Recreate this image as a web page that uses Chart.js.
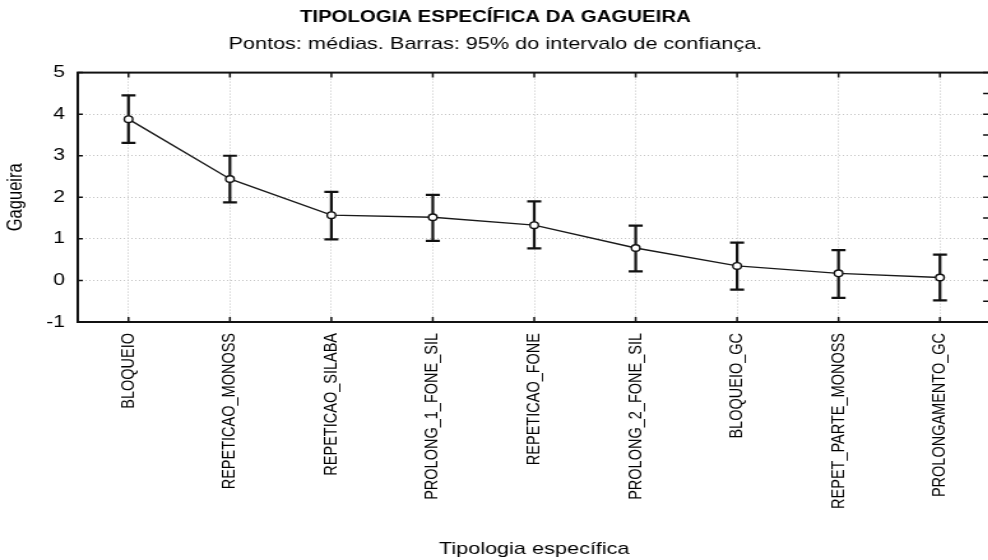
<!DOCTYPE html>
<html lang="pt">
<head>
<meta charset="UTF-8">
<title>Tipologia específica da gagueira</title>
<script src="https://cdn.jsdelivr.net/npm/chart.js"></script>
<style>
  html, body { margin: 0; padding: 0; background: #fff; overflow: hidden; }
  /* o original está esticado na horizontal: desenha-se a 800px e mostra-se a 1020px */
  #chart { width: 1020px; height: 560px; }
</style>
</head>
<body>
<canvas id="chart" width="800" height="560" style="width:1020px;height:560px"></canvas>
<script>
  // valores
  const categories = ['BLOQUEIO', 'REPETICAO_MONOSS', 'REPETICAO_SILABA', 'PROLONG_1_FONE_SIL',
    'REPETICAO_FONE', 'PROLONG_2_FONE_SIL', 'BLOQUEIO_GC', 'REPET_PARTE_MONOSS', 'PROLONGAMENTO_GC'];
  const means = [3.88, 2.44, 1.57, 1.52, 1.33, 0.78, 0.35, 0.17, 0.07];
  const ciLow = [3.31, 1.88, 0.99, 0.95, 0.77, 0.22, -0.22, -0.42, -0.48];
  const ciHigh = [4.45, 3.00, 2.13, 2.06, 1.90, 1.32, 0.91, 0.73, 0.62];
  const yMin = -1, yMax = 5;

  const FONT = '"Liberation Sans", Arial, sans-serif';
  Chart.defaults.font.family = FONT;
  Chart.defaults.color = '#000';

  // barras de erro + moldura com marcas internas
  const errorBars = {
    id: 'errorBars',
    beforeDatasetsDraw(chart) {
      const ctx = chart.ctx, x = chart.scales.x, y = chart.scales.y;
      ctx.save();
      ctx.strokeStyle = '#111';
      ctx.lineWidth = 2.2;
      for (let i = 0; i < means.length; i++) {
        const px = x.getPixelForValue(i);
        const top = y.getPixelForValue(ciHigh[i]);
        const bot = y.getPixelForValue(ciLow[i]);
        ctx.beginPath();
        ctx.moveTo(px, top); ctx.lineTo(px, bot);
        ctx.moveTo(px - 5.5, top); ctx.lineTo(px + 5.5, top);
        ctx.moveTo(px - 5.5, bot); ctx.lineTo(px + 5.5, bot);
        ctx.stroke();
      }
      ctx.restore();
    },
    afterDraw(chart) {
      const ctx = chart.ctx, a = chart.chartArea, x = chart.scales.x, y = chart.scales.y;
      ctx.save();
      ctx.strokeStyle = '#111';
      ctx.lineWidth = 2;
      ctx.strokeRect(a.left, a.top, a.right - a.left, a.bottom - a.top);
      ctx.lineWidth = 1.5;
      ctx.beginPath();
      for (let i = 0; i < categories.length; i++) {
        const px = x.getPixelForValue(i);
        ctx.moveTo(px, a.top); ctx.lineTo(px, a.top + 5);
        ctx.moveTo(px, a.bottom); ctx.lineTo(px, a.bottom - 5);
      }
      for (let v = yMin; v <= yMax; v += 0.5) {
        const py = y.getPixelForValue(v);
        if (v % 1 === 0) { ctx.moveTo(a.left, py); ctx.lineTo(a.left + 4, py); }
        ctx.moveTo(a.right, py); ctx.lineTo(a.right - 6, py);
      }
      ctx.stroke();
      ctx.restore();
    }
  };

  new Chart(document.getElementById('chart'), {
    type: 'line',
    data: {
      labels: categories,
      datasets: [{
        data: means,
        borderColor: '#1a1a1a',
        borderWidth: 1.4,
        pointRadius: 3.3,
        pointBackgroundColor: '#fff',
        pointBorderColor: '#111',
        pointBorderWidth: 1.4,
        tension: 0
      }]
    },
    options: {
      responsive: false,
      devicePixelRatio: 1,
      animation: false,
      layout: { padding: { left: 0, right: 23, top: 0, bottom: 0 } },
      plugins: {
        legend: { display: false },
        tooltip: { enabled: false },
        title: {
          display: true,
          text: 'TIPOLOGIA ESPECÍFICA DA GAGUEIRA',
          font: { size: 16, weight: 'bold' },
          padding: { top: 8, bottom: 7 }
        },
        subtitle: {
          display: true,
          text: 'Pontos: médias. Barras: 95% do intervalo de confiança.',
          font: { size: 17 },
          padding: { top: 0, bottom: 18 }
        }
      },
      scales: {
        x: {
          offset: true,
          afterFit(scale) { scale.height = 238; },
          grid: { offset: false, color: '#c4c4c4', drawTicks: false },
          border: { display: false, dash: [1, 2] },
          ticks: { font: { size: 14.5 }, padding: 11, minRotation: 90, maxRotation: 90, autoSkip: false },
          title: { display: true, text: 'Tipologia específica', font: { size: 17 }, padding: { top: 0, bottom: 0 } }
        },
        y: {
          min: yMin, max: yMax,
          afterFit(scale) { scale.width = 61; },
          grid: { color: '#c4c4c4', drawTicks: false },
          border: { display: false, dash: [1, 2] },
          ticks: { stepSize: 1, font: { size: 16.5 }, padding: 10 },
          title: { display: true, text: 'Gagueira', font: { size: 16.5 }, padding: { top: 3, bottom: 0 } }
        }
      }
    },
    plugins: [errorBars]
  });
</script>
</body>
</html>
